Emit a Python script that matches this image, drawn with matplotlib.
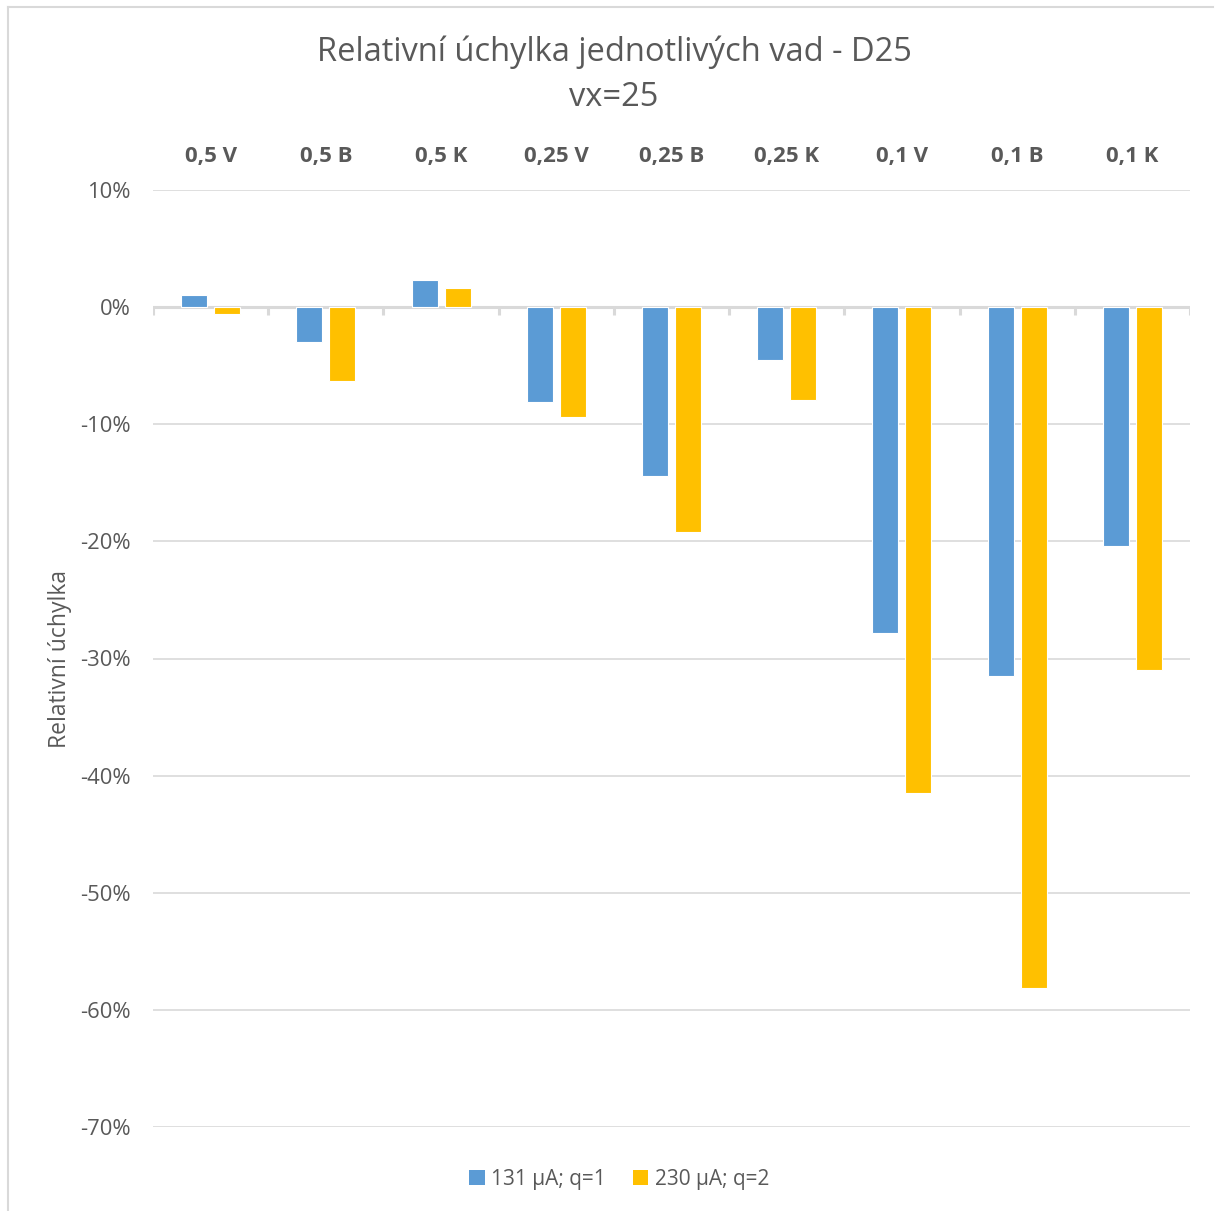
import matplotlib
matplotlib.use("Agg")
import matplotlib.pyplot as plt
from matplotlib.lines import Line2D
from matplotlib.patches import Patch
import numpy as np

categories = ["0,5 V", "0,5 B", "0,5 K", "0,25 V", "0,25 B", "0,25 K", "0,1 V", "0,1 B", "0,1 K"]
series_names = ["131 µA; q=1", "230 µA; q=2"]
values_131 = [1.0, -3.0, 2.3, -8.1, -14.4, -4.5, -27.8, -31.5, -20.4]
values_230 = [-0.6, -6.3, 1.6, -9.4, -19.2, -7.9, -41.5, -58.1, -31.0]
y_ticks = [10, 0, -10, -20, -30, -40, -50, -60, -70]

BLUE = "#5b9bd5"
ORANGE = "#ffc000"
TEXT = "#595959"
GRID = "#d9d9d9"

plt.rcParams["font.family"] = ["Open Sans", "DejaVu Sans"]

W, H = 1215, 1211
fig = plt.figure(figsize=(W / 100, H / 100), dpi=100)
ax = fig.add_axes([153 / W, 1 - 1127 / H, (1190 - 153) / W, (1127 - 190) / H])

x = np.arange(len(categories))
bw = 0.226
off = 0.143
ax.bar(x - off, values_131, bw, color=BLUE, edgecolor="white", linewidth=0.8, zorder=3)
ax.bar(x + off, values_230, bw, color=ORANGE, edgecolor="white", linewidth=0.8, zorder=3)

ax.set_xlim(-0.5, len(categories) - 0.5)
ax.set_ylim(-70, 10)
ax.set_yticks(y_ticks)
ax.set_yticklabels([f"{v}%" for v in y_ticks], color=TEXT, fontsize=15.8)
ax.tick_params(axis="y", length=0, pad=16)
ax.grid(axis="y", color=GRID, linewidth=1.2, zorder=0)
ax.axhline(0, color=GRID, linewidth=2.2, zorder=2)
bounds = np.arange(len(categories) + 1) - 0.5
ax.vlines(bounds, -0.7, 0, color=GRID, linewidth=2.2, zorder=2)

ax.xaxis.tick_top()
ax.set_xticks(x)
ax.set_xticklabels(categories, color=TEXT, fontsize=16, fontweight="bold")
ax.tick_params(axis="x", length=0, pad=16.5)
for s in ax.spines.values():
    s.set_visible(False)

ax.set_ylabel("Relativní úchylka", color=TEXT, fontsize=16.5)
ax.yaxis.set_label_coords(-(153 - 60) / (1190 - 153), 0.5)
ax.yaxis.label.set_va("center")

fig.text(614 / W, 1 - 52 / H, "Relativní úchylka jednotlivých vad - D25",
         ha="center", va="center", fontsize=23.5, color=TEXT)
fig.text(614 / W, 1 - 98 / H, "vx=25", ha="center", va="center", fontsize=23.5, color=TEXT)

handles = [Patch(facecolor=BLUE), Patch(facecolor=ORANGE)]
fig.legend(handles, series_names, loc="center", bbox_to_anchor=(619 / W, 1 - 1179 / H),
           ncol=2, frameon=False, fontsize=15, labelcolor=TEXT,
           handlelength=0.75, handleheight=0.75, handletextpad=0.3, columnspacing=1.3)

# outer chart frame
fig.add_artist(Line2D([8 / W, 1213 / W], [1 - 7 / H, 1 - 7 / H], color=GRID, linewidth=1.5))
fig.add_artist(Line2D([8 / W, 8 / W], [1 - 7 / H, 0], color=GRID, linewidth=1.5))

fig.savefig("out.png", dpi=100)
